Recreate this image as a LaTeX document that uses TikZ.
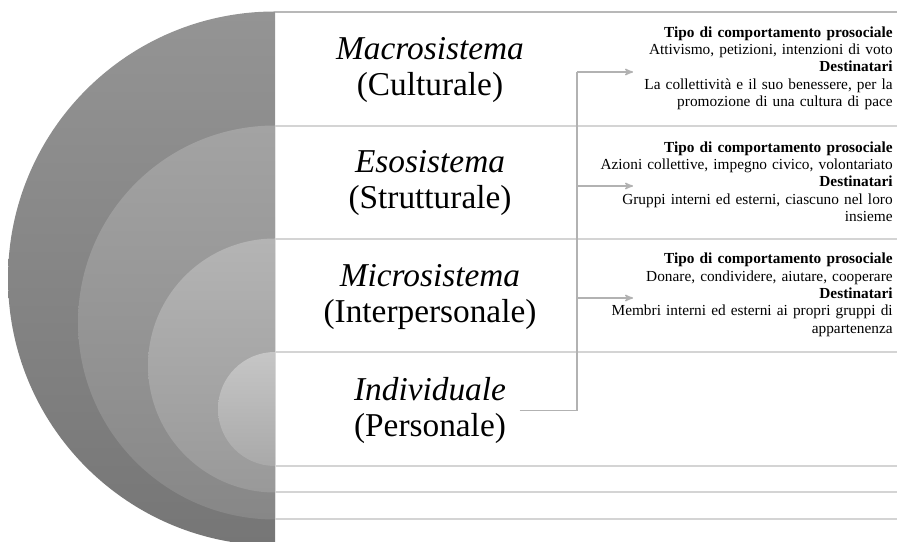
\documentclass[tikz,border=0pt]{standalone}
\usepackage{fontspec}
\setmainfont{Liberation Serif}
\usepackage{tikz}
\usetikzlibrary{arrows,positioning}

\definecolor{outerTop}{HTML}{949494}
\definecolor{outerBot}{HTML}{767676}
\definecolor{secTop}{HTML}{A3A3A3}
\definecolor{secBot}{HTML}{878787}
\definecolor{thirdTop}{HTML}{B4B4B4}
\definecolor{thirdBot}{HTML}{999999}
\definecolor{innerTop}{HTML}{C6C6C6}
\definecolor{innerBot}{HTML}{A9A9A9}

\begin{document}
\begin{tikzpicture}[x=0.75pt,y=0.75pt,>=stealth',node distance=85.1pt,
  level/.style={align=center,font=\fontsize{25}{27}\selectfont,inner sep=2pt},
  desc/.style={align=right,text width=226pt,inner sep=0pt,font=\fontsize{11.5}{13}\selectfont},
  rule/.style={draw=black!17,line width=0.8pt},
  conn/.style={draw=black!30,line width=1.1pt}]
\clip (0,0) rectangle (897,542);

% half rings
\shade[top color=outerTop,bottom color=outerBot] (275,530.5) arc[start angle=90,end angle=270,radius=200.25pt] -- cycle;
\shade[top color=secTop,bottom color=secBot] (275,416.5) arc[start angle=90,end angle=270,radius=147.75pt] -- cycle;
\shade[top color=thirdTop,bottom color=thirdBot] (275,303.5) arc[start angle=90,end angle=270,radius=95.25pt] -- cycle;
\shade[top color=innerTop,bottom color=innerBot] (275,190) arc[start angle=90,end angle=270,radius=42.75pt] -- cycle;

% table rules
\draw[rule,draw=black!28] (275,530) -- (897,530);
\foreach \y in {416,303,190,76,50,23}
  \draw[rule] (275,\y) -- (897,\y);

\node[level] (macro) at (430,472) {\textit{Macrosistema}\\(Culturale)};
\node[level] (eso) [below of=macro] {\textit{Esosistema}\\(Strutturale)};
\node[level] (micro) [below of=eso] {\textit{Microsistema}\\(Interpersonale)};
\node[level] (indiv) [below of=micro] {\textit{Individuale}\\(Personale)};

\node[desc] (dmacro) at (742,474) {\textbf{Tipo di comportamento prosociale}\\
  Attivismo, petizioni, intenzioni di voto\\ \textbf{Destinatari}\\
  La collettività e il suo benessere, per la\\ promozione di una cultura di pace};
\node[desc] (deso) [below of=dmacro] {\textbf{Tipo di comportamento prosociale}\\
  Azioni collettive, impegno civico, volontariato\\ \textbf{Destinatari}\\
  Gruppi interni ed esterni, ciascuno nel loro\\ insieme};
\node[desc] (dmicro) [below of=deso] {\textbf{Tipo di comportamento prosociale}\\
  Donare, condividere, aiutare, cooperare\\ \textbf{Destinatari}\\
  Membri interni ed esterni ai propri gruppi di\\ appartenenza};

\coordinate (bus) at (577,470);
\coordinate (tmacro) at (633,470);
\coordinate (teso) at (633,356);
\coordinate (tmicro) at (633,244);

\draw[conn] ([xshift=8pt]indiv.east) -| (bus);
\draw[conn,->] (bus |- tmacro) -- (tmacro);
\draw[conn,->] (bus |- teso) -- (teso);
\draw[conn,->] (bus |- tmicro) -- (tmicro);
\end{tikzpicture}
\end{document}
